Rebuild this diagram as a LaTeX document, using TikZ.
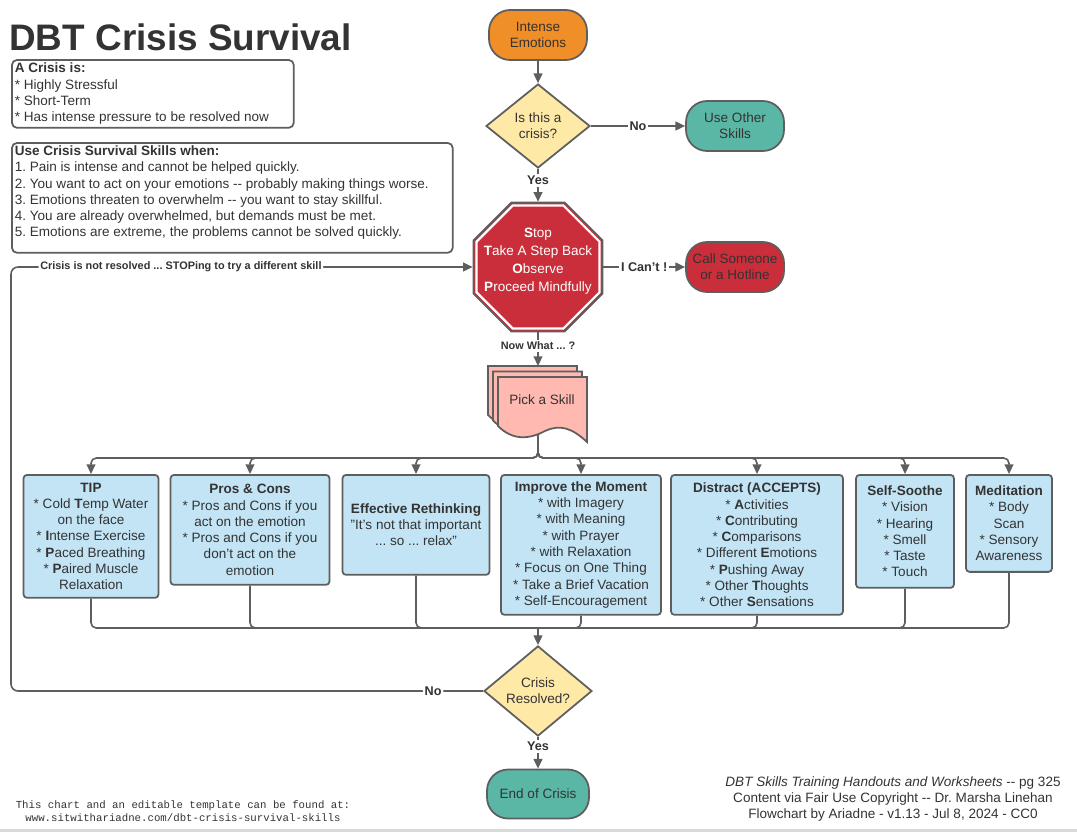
\documentclass[tikz,border=0pt]{standalone}
\usepackage{fontspec}
\setmainfont{Liberation Sans}
\setmonofont{Liberation Mono}
\usepackage{tikz}
\usetikzlibrary{positioning,arrows.meta,shapes.geometric,calc}
\frenchspacing
\definecolor{linegray}{RGB}{94,94,94}
\definecolor{txtdark}{RGB}{51,51,51}
\definecolor{emoorange}{RGB}{240,142,40}
\definecolor{decyellow}{RGB}{255,233,167}
\definecolor{calmteal}{RGB}{91,183,165}
\definecolor{stopred}{RGB}{201,46,58}
\definecolor{pickpink}{RGB}{255,185,176}
\definecolor{skillblue}{RGB}{194,228,245}

\begin{document}
\begin{tikzpicture}[x=0.02cm, y=-0.02cm,
    every node/.style={text=txtdark},
    body/.style={font=\fontsize{7.7}{9.25}\selectfont},
    pill/.style={body, draw=linegray, line width=1pt, rounded corners=12pt, align=center,
        minimum width=1.96cm, minimum height=1cm, inner sep=0pt},
    decision/.style={body, diamond, draw=linegray, line width=1pt, fill=decyellow, align=center, inner sep=0pt},
    skill/.style={body, draw=linegray, line width=1pt, fill=skillblue, rounded corners=2pt,
        align=center, anchor=north, inner sep=0pt},
    infobox/.style={body, draw=linegray, line width=1pt, rounded corners=3pt, anchor=north west,
        inner xsep=0.06cm, inner ysep=0.06cm},
    octagon/.style={regular polygon, regular polygon sides=8, inner sep=0pt},
    docshape/.style={draw=linegray, line width=1pt, fill=pickpink},
    flow/.style={draw=linegray, line width=0.9pt, -{Triangle[length=5.5pt,width=5pt]}},
    link/.style={draw=linegray, line width=0.9pt},
    tag/.style={font=\bfseries\fontsize{7.2}{8}\selectfont, fill=white, inner sep=1pt},
    smalltag/.style={font=\bfseries\fontsize{6.2}{7}\selectfont, fill=white, inner sep=1pt}
]
    \useasboundingbox (0,0) rectangle (1077,832);

    % TITLE AND INFO BOXES
    \node[anchor=base west, inner sep=0pt, font=\bfseries\fontsize{21}{24}\selectfont] (title) at (9,50) {DBT Crisis Survival};
    \node[infobox] (crisis) at (11,59) {\parbox[c][1.24cm][c]{5.52cm}{\raggedright
        \textbf{A Crisis is:}\\{}* Highly Stressful\\{}* Short-Term\\{}* Has intense pressure to be resolved now}};
    \node[infobox] (when) at (11,142) {\parbox[c][2.08cm][t]{8.7cm}{\raggedright
        \textbf{Use Crisis Survival Skills when:}\\
        1. Pain is intense and cannot be helped quickly.\\
        2. You want to act on your emotions -{}- probably making things worse.\\
        3. Emotions threaten to overwhelm -{}- you want to stay skillful.\\
        4. You are already overwhelmed, but demands must be met.\\
        5. Emotions are extreme, the problems cannot be solved quickly.}};

    % TOP OF THE FLOW
    \node[pill, fill=emoorange] (emotions) at (538,35) {Intense\\Emotions};
    \node[decision, minimum width=2.08cm, minimum height=1.68cm] (isit) at (538,126) {Is this a\\crisis?};
    \node[pill, fill=calmteal] (other) at (735,126) {Use Other\\Skills};

    % STOP SIGN
    \node[octagon, minimum size=2.79cm, fill=stopred, draw=linegray, line width=1pt] (stop) at (538,267) {};
    \node[octagon, minimum size=2.66cm, draw=white, line width=1.3pt] (stopring) at (stop) {};
    \node[text=white, align=center, inner sep=0pt, font=\fontsize{7.7}{10.2}\selectfont] (stoptext) at (538,261)
        {\textbf{S}top\\\textbf{T}ake A Step Back\\\textbf{O}bserve\\\textbf{P}roceed Mindfully};
    \node[pill, fill=stopred] (call) at (735,267) {Call Someone\\or a Hotline};

    % PICK A SKILL (stacked documents)
    \foreach \s/\t in {-10/-11,-5/-5.5,0/0} {
        \draw[docshape, shift={(\s,\t)}] (498,377) -- (587,377) -- (587,442)
            .. controls (572,428) and (560,424) .. (545,431)
            .. controls (528,440) and (512,440) .. (498,426) -- cycle;
    }
    \node[body] (pick) at (542,400) {Pick a Skill};
    \coordinate (picktop) at (538,366);
    \coordinate (pickstem) at (538,434);
    \coordinate (bus) at (538,458);
    \coordinate (merge) at (538,628);

    % SKILLS
    \node[skill, minimum width=2.7cm, minimum height=2.46cm] (tip) at (91,474)
        {\textbf{TIP}\\{}* Cold \textbf{T}emp Water\\on the face\\{}* \textbf{I}ntense Exercise\\{}* \textbf{P}aced Breathing\\{}* \textbf{P}aired Muscle\\Relaxation};
    \node[skill, minimum width=3.18cm, minimum height=2.2cm] (pros) at (250,474)
        {\textbf{Pros \& Cons}\\{}* Pros and Cons if you\\act on the emotion\\{}* Pros and Cons if you\\don't act on the\\emotion};
    \node[skill, minimum width=2.94cm, minimum height=2.0cm] (rethink) at (416,474)
        {\textbf{Effective Rethinking}\\"It's not that important\\... so ... relax"};
    \node[skill, minimum width=3.2cm, minimum height=2.8cm] (improve) at (581,474)
        {\textbf{Improve the Moment}\\{}* with Imagery\\{}* with Meaning\\{}* with Prayer\\{}* with Relaxation\\{}* Focus on One Thing\\{}* Take a Brief Vacation\\{}* Self-Encouragement};
    \node[skill, minimum width=3.44cm, minimum height=2.8cm] (distract) at (757,474)
        {\textbf{Distract (ACCEPTS)}\\{}* \textbf{A}ctivities\\{}* \textbf{C}ontributing\\{}* \textbf{C}omparisons\\{}* Different \textbf{E}motions\\{}* \textbf{P}ushing Away\\{}* Other \textbf{T}houghts\\{}* Other \textbf{S}ensations};
    \node[skill, minimum width=1.96cm, minimum height=2.26cm] (soothe) at (905,474)
        {\textbf{Self-Soothe}\\{}* Vision\\{}* Hearing\\{}* Smell\\{}* Taste\\{}* Touch};
    \node[skill, minimum width=1.72cm, minimum height=1.94cm] (meditate) at (1009,474)
        {\textbf{Meditation}\\{}* Body\\Scan\\{}* Sensory\\Awareness};

    % BOTTOM OF THE FLOW
    \node[decision, minimum width=2.16cm, minimum height=1.64cm] (resolved) at (538,691) {Crisis\\Resolved?};
    \node[pill, fill=calmteal, minimum width=2.04cm, minimum height=0.98cm] (endcrisis) at (538,794) {End of Crisis};
    \coordinate (loopcorner) at (11,691);

    % CONNECTORS
    \draw[flow] (emotions) -- (isit);
    \draw[flow] (isit) -- node[tag] {No} (other);
    \draw[flow] (isit) -- node[tag, pos=0.35] {Yes} (stop.north);
    \draw[flow] (stop) -- node[tag] {I Can't !} (call);
    \draw[flow] (stop.south) -- node[smalltag, pos=0.4] {Now What ... ?} (picktop);
    \foreach \sk in {tip,pros,rethink,improve,distract,soothe,meditate} {
        \draw[flow, rounded corners=3pt] (pickstem) -- (bus) -| (\sk.north);
        \draw[link, rounded corners=3pt] (\sk.south) |- (merge);
    }
    \draw[flow] (merge) -- (resolved.north);
    \draw[flow] (resolved) -- node[tag, pos=0.3] {Yes} (endcrisis);
    \draw[flow, rounded corners=4pt] (resolved.west) -- node[tag, pos=0.106] {No} (loopcorner)
        |- node[smalltag, pos=0.684] {Crisis is not resolved ... STOPing to try a different skill} (stop.west);

    % FOOTER
    \node[align=center, inner sep=0pt, font=\ttfamily\fontsize{6.1}{7.2}\selectfont] (source) at (183,811)
        {This chart and an editable template can be found at:\\www.sitwithariadne.com/dbt-crisis-survival-skills};
    \node[body, align=center, inner sep=0pt] (credits) at (893,799)
        {\textit{DBT Skills Training Handouts and Worksheets} -{}- pg 325\\Content via Fair Use Copyright -{}- Dr. Marsha Linehan\\Flowchart by Ariadne - v1.13 - Jul 8, 2024 - CC0};
    \fill[black!15] (0,829) rectangle (1077,832);

\end{tikzpicture}
\end{document}
